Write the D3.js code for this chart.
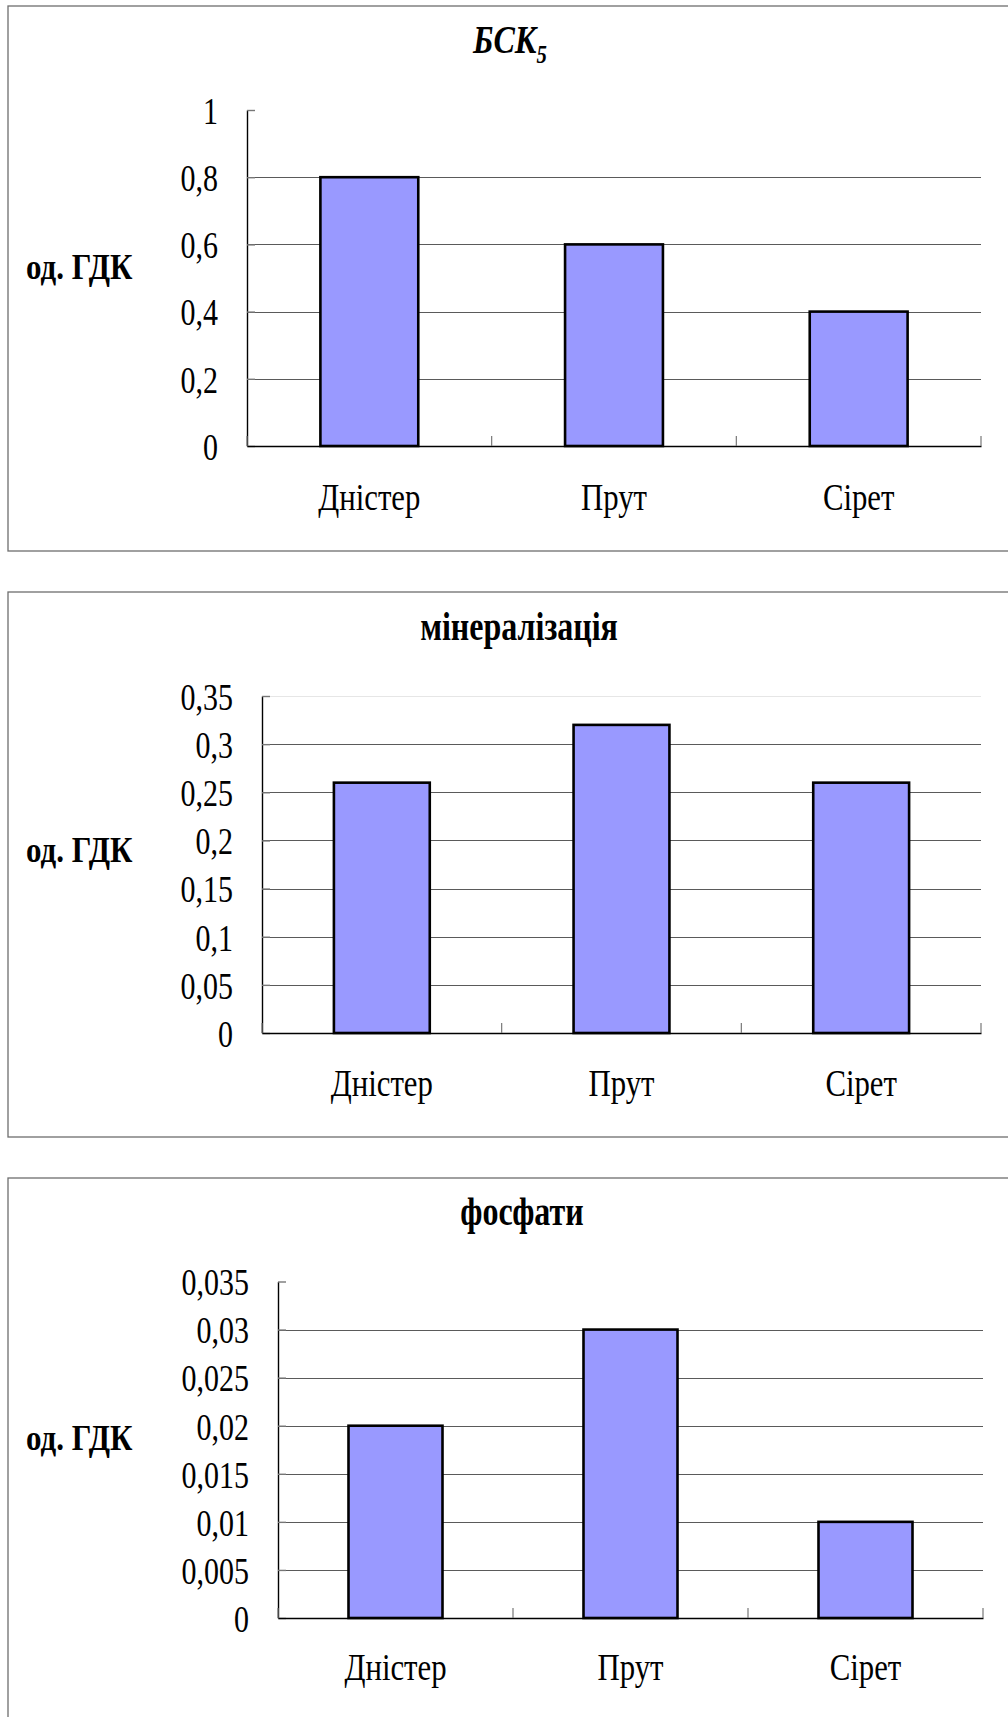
<!DOCTYPE html>
<html>
<head>
<meta charset="utf-8">
<script src="https://cdn.jsdelivr.net/npm/d3@7"></script>
<style>
  html, body { margin: 0; padding: 0; background: #fff; }
  svg { display: block; }
  text { font-family: "Liberation Serif", "Times New Roman", serif; fill: #000; }
</style>
</head>
<body>
<svg id="chart" width="1008" height="1717"></svg>
<script>
// Rivers and indicator values (in units of maximum permissible concentration)
const categories = ["Дністер", "Прут", "Сірет"];
const bskValues = [0.8, 0.6, 0.4];
const mineralValues = [0.26, 0.32, 0.26];
const phosphateValues = [0.02, 0.03, 0.01];

// Y tick values of each panel
const bskTicks = [0, 0.2, 0.4, 0.6, 0.8, 1];
const mineralTicks = [0, 0.05, 0.1, 0.15, 0.2, 0.25, 0.3, 0.35];
const phosphateTicks = [0, 0.005, 0.01, 0.015, 0.02, 0.025, 0.03, 0.035];

// Panel titles and the shared axis label
const titles = ["БСК", "мінералізація", "фосфати"];
const titleSubscripts = ["5", "", ""];
const yAxisLabel = "од. ГДК";

// Page geometry of the three stacked panels
const panels = [
  { values: bskValues, ticks: bskTicks, boxTop: 6, boxBottom: 551, left: 247, right: 981, top: 110, zero: 446,
    titleX: 510, titleY: 53, italic: true, labelY: 279, catY: 510, faintTop: false },
  { values: mineralValues, ticks: mineralTicks, boxTop: 592, boxBottom: 1137, left: 262, right: 981, top: 696, zero: 1033,
    titleX: 519, titleY: 640, italic: false, labelY: 862, catY: 1096, faintTop: true },
  { values: phosphateValues, ticks: phosphateTicks, boxTop: 1178, boxBottom: 1760, left: 278, right: 983, top: 1281.5, zero: 1618,
    titleX: 522, titleY: 1225, italic: false, labelY: 1450, catY: 1680, faintTop: false }
];

// lettering is drawn tall and horizontally condensed
const serif = "'Liberation Serif', 'Times New Roman', serif";
const uaLocale = d3.formatLocale({ decimal: ",", thousands: " ", grouping: [3], currency: ["", ""] });
const fmt = uaLocale.format("~g");

const svg = d3.select("#chart");
svg.append("rect").attr("width", 1008).attr("height", 1717).attr("fill", "#fff");

function placeText(g, x, y, str, sx) {
  return g.append("text")
    .attr("transform", `translate(${x},${y}) scale(${sx},1)`)
    .style("font-family", serif)
    .text(str);
}

panels.forEach((p, i) => {
  const g = svg.append("g");

  // frame
  g.append("rect")
    .attr("x", 8).attr("y", p.boxTop)
    .attr("width", 1020).attr("height", p.boxBottom - p.boxTop)
    .attr("fill", "none").attr("stroke", "#6e6e6e").attr("stroke-width", 1.3);

  const x = d3.scaleBand().domain(categories).range([p.left, p.right])
    .paddingInner(0.6).paddingOuter(0.3);
  const xEdges = d3.scaleBand().domain(categories).range([p.left, p.right]).padding(0);
  const y = d3.scaleLinear().domain([0, p.ticks[p.ticks.length - 1]]).range([p.zero, p.top]);

  // horizontal gridlines
  g.append("g").selectAll("line")
    .data(p.ticks.filter((t, k) => k > 0 && (k < p.ticks.length - 1 || p.faintTop)))
    .join("line")
    .attr("x1", p.left).attr("x2", p.right)
    .attr("y1", d => Math.round(y(d)) + 0.5).attr("y2", d => Math.round(y(d)) + 0.5)
    .attr("stroke", d => (p.faintTop && d === p.ticks[p.ticks.length - 1]) ? "#e6e6e6" : "#5a5a5a")
    .attr("stroke-width", 1.2);

  // bars
  g.append("g").selectAll("rect")
    .data(p.values)
    .join("rect")
    .attr("x", (d, k) => x(categories[k]))
    .attr("y", d => y(d))
    .attr("width", x.bandwidth())
    .attr("height", d => p.zero - y(d))
    .attr("fill", "#9999ff")
    .attr("stroke", "#000")
    .attr("stroke-width", 2.6);

  // y axis
  const TSX = 0.81;
  const yAxis = d3.axisLeft(y).tickValues(p.ticks).tickFormat(fmt).tickSizeInner(-8).tickSizeOuter(0).tickPadding(0);
  const ya = g.append("g").attr("transform", `translate(${p.left},0)`).call(yAxis);
  ya.select(".domain").attr("stroke", "#000").attr("stroke-width", 1.4);
  ya.selectAll(".tick line").attr("stroke", "#777").attr("stroke-width", 1.4);
  ya.selectAll(".tick text")
    .attr("x", -29 / TSX)
    .attr("dy", "0.36em")
    .attr("transform", `scale(${TSX},1)`)
    .style("font-size", "37px")
    .style("font-family", serif)
    .attr("fill", "#000");

  // x axis with boundary ticks pointing up
  const xAxis = d3.axisBottom(xEdges).tickSize(0).tickFormat("");
  const xa = g.append("g").attr("transform", `translate(0,${p.zero})`).call(xAxis);
  xa.select(".domain").attr("stroke", "#000").attr("stroke-width", 1.6);
  xa.selectAll(".tick").remove();
  const edges = categories.map(c => xEdges(c)).concat([p.right]);
  xa.selectAll("line.edge").data(edges).join("line")
    .attr("class", "edge")
    .attr("x1", d => d).attr("x2", d => d)
    .attr("y1", 0).attr("y2", -10)
    .attr("stroke", "#777").attr("stroke-width", 1.2);

  // category labels
  categories.forEach(c => {
    placeText(g, x(c) + x.bandwidth() / 2, p.catY, c, 0.81)
      .attr("text-anchor", "middle")
      .style("font-size", "38px");
  });

  // y axis label
  placeText(g, 26, p.labelY, yAxisLabel, 0.86)
    .style("font-size", "36px")
    .style("font-weight", "bold");

  // title
  const t = placeText(g, p.titleX, p.titleY, "", 0.8)
    .attr("text-anchor", "middle")
    .style("font-size", "40px")
    .style("font-weight", "bold")
    .style("font-style", p.italic ? "italic" : "normal");
  t.append("tspan").text(titles[i]);
  if (titleSubscripts[i]) {
    t.append("tspan").attr("dy", 10).style("font-size", "26px").text(titleSubscripts[i]);
  }
});
</script>
</body>
</html>
